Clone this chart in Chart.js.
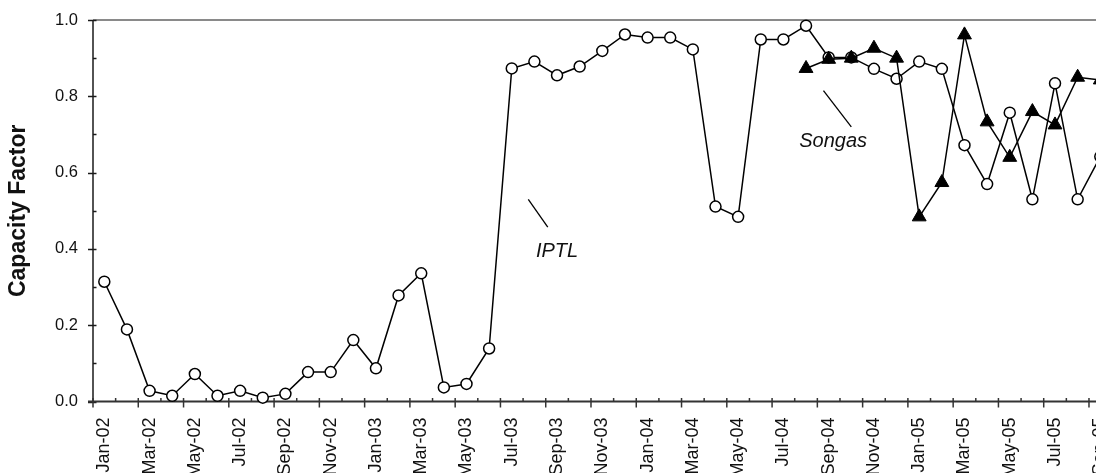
<!DOCTYPE html>
<html>
<head>
<meta charset="utf-8">
<script src="https://cdn.jsdelivr.net/npm/chart.js@4.4.0/dist/chart.umd.min.js"></script>
<style>
  html, body { margin: 0; padding: 0; background: #fff; overflow: hidden; }
</style>
</head>
<body>
<canvas id="capChart" width="1130" height="473"></canvas>
<script>
// Data
const months = [
    'Jan-02', 'Feb-02', 'Mar-02', 'Apr-02', 'May-02', 'Jun-02', 'Jul-02', 'Aug-02', 'Sep-02', 'Oct-02', 'Nov-02', 'Dec-02',
    'Jan-03', 'Feb-03', 'Mar-03', 'Apr-03', 'May-03', 'Jun-03', 'Jul-03', 'Aug-03', 'Sep-03', 'Oct-03', 'Nov-03', 'Dec-03',
    'Jan-04', 'Feb-04', 'Mar-04', 'Apr-04', 'May-04', 'Jun-04', 'Jul-04', 'Aug-04', 'Sep-04', 'Oct-04', 'Nov-04', 'Dec-04',
    'Jan-05', 'Feb-05', 'Mar-05', 'Apr-05', 'May-05', 'Jun-05', 'Jul-05', 'Aug-05', 'Sep-05'
];

const iptl = [
    0.314, 0.189, 0.028, 0.015, 0.072, 0.015, 0.028, 0.010, 0.020, 0.077, 0.077, 0.161,
    0.087, 0.278, 0.336, 0.037, 0.046, 0.139, 0.873, 0.891, 0.855, 0.878, 0.919, 0.962,
    0.954, 0.954, 0.923, 0.511, 0.484, 0.949, 0.949, 0.985, 0.902, 0.902, 0.872, 0.846,
    0.891, 0.872, 0.672, 0.570, 0.757, 0.530, 0.834, 0.530, 0.642
];

const songas = [
    null, null, null, null, null, null, null, null, null, null, null, null,
    null, null, null, null, null, null, null, null, null, null, null, null,
    null, null, null, null, null, null, null, 0.873, 0.897, 0.900, 0.926, 0.900,
    0.484, 0.574, 0.961, 0.733, 0.640, 0.760, 0.725, 0.850, 0.843
];

// labels placed in data space: text at (x, y), leader line from (x1, y1) to (x2, y2)
const notes = [
    { text: 'IPTL', x: 20.0, y: 0.380, x1: 18.73, y1: 0.530, x2: 19.59, y2: 0.457 },
    { text: 'Songas', x: 32.2, y: 0.666, x1: 31.77, y1: 0.815, x2: 33.0, y2: 0.720 }
];

Chart.defaults.font.family = '"Liberation Sans", Arial, sans-serif';
Chart.defaults.color = '#111';

function strokeLine(ctx, x1, y1, x2, y2) {
    ctx.beginPath();
    ctx.moveTo(x1, y1);
    ctx.lineTo(x2, y2);
    ctx.stroke();
}

// axes, frame line and tick marks (major / minor)
const axisPainter = {
    id: 'axisPainter',
    beforeDatasetsDraw(chart) {
        const { ctx, chartArea: a, scales: { x, y } } = chart;
        ctx.save();

        ctx.strokeStyle = '#8a8a8a';
        ctx.lineWidth = 2;
        strokeLine(ctx, a.left, a.top, a.right, a.top);

        ctx.strokeStyle = '#1a1a1a';
        ctx.lineWidth = 1.5;
        strokeLine(ctx, a.left, a.top, a.left, a.bottom);
        for (let v = 0; v <= 10; v++) {
            const py = Math.round(y.getPixelForValue(v / 10)) + 0.5;
            const major = v % 2 === 0;
            strokeLine(ctx, major ? a.left - 5 : a.left, py, a.left + 3.5, py);
        }

        ctx.strokeStyle = '#333';
        ctx.lineWidth = 2;
        strokeLine(ctx, a.left - 5, a.bottom, a.right, a.bottom);
        ctx.lineWidth = 1.5;
        const half = (x.getPixelForValue(1) - x.getPixelForValue(0)) / 2;
        for (let i = 0; i <= months.length; i++) {
            const px = x.getPixelForValue(i) - half;
            const major = i % 2 === 0;
            strokeLine(ctx, px, a.bottom - 3.5, px, major ? a.bottom + 6 : a.bottom);
        }
        ctx.restore();
    },
    afterDatasetsDraw(chart) {
        const { ctx, scales: { x, y } } = chart;
        ctx.save();
        ctx.strokeStyle = '#000';
        ctx.lineWidth = 1.3;
        ctx.fillStyle = '#111';
        ctx.font = 'italic 20px "Liberation Sans", Arial, sans-serif';
        ctx.textAlign = 'center';
        ctx.textBaseline = 'alphabetic';
        notes.forEach(n => {
            strokeLine(ctx, x.getPixelForValue(n.x1), y.getPixelForValue(n.y1),
                x.getPixelForValue(n.x2), y.getPixelForValue(n.y2));
            ctx.fillText(n.text, x.getPixelForValue(n.x), y.getPixelForValue(n.y));
        });
        ctx.restore();
    }
};

new Chart(document.getElementById('capChart').getContext('2d'), {
    type: 'line',
    data: {
        labels: months,
        datasets: [
            {
                label: 'Songas',
                data: songas,
                borderColor: '#000',
                borderWidth: 1.5,
                pointStyle: 'triangle',
                pointRadius: 8,
                pointBackgroundColor: '#000',
                pointBorderColor: '#000',
                pointBorderWidth: 1,
                tension: 0,
                clip: false
            },
            {
                label: 'IPTL',
                data: iptl,
                borderColor: '#000',
                borderWidth: 1.5,
                pointStyle: 'circle',
                pointRadius: 5.5,
                pointBackgroundColor: '#fff',
                pointBorderColor: '#000',
                pointBorderWidth: 1.5,
                tension: 0,
                clip: false
            }
        ]
    },
    options: {
        responsive: false,
        animation: false,
        layout: { padding: { top: 20, left: 0, right: 0, bottom: 0 } },
        plugins: {
            legend: { display: false },
            tooltip: { enabled: false }
        },
        scales: {
            x: {
                type: 'category',
                offset: true,
                grid: { display: false },
                border: { display: false },
                ticks: {
                    autoSkip: false,
                    maxRotation: 90,
                    minRotation: 90,
                    padding: 8,
                    font: { size: 18 },
                    callback: (val, i) => (i % 2 === 0 ? months[i] : '')
                },
                afterFit: (scale) => { scale.height = 71.5; }
            },
            y: {
                min: 0,
                max: 1,
                grid: { display: false },
                border: { display: false },
                ticks: {
                    stepSize: 0.2,
                    padding: 7,
                    font: { size: 16.5 },
                    callback: (v) => v.toFixed(1)
                },
                title: {
                    display: true,
                    text: 'Capacity Factor',
                    font: { size: 23, weight: 'bold' },
                    padding: { top: 5, bottom: 0 }
                },
                afterFit: (scale) => { scale.width = 93; }
            }
        }
    },
    plugins: [axisPainter]
});
</script>
</body>
</html>
